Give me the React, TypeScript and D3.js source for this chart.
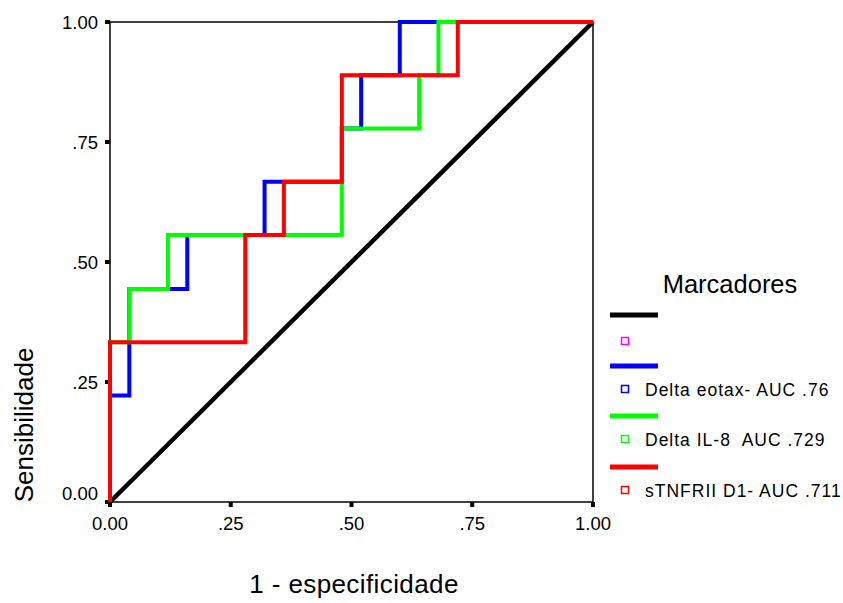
import React from "react";
import * as d3 from "d3";

// ROC step points (1 - especificidade, sensibilidade)
const eotaxFpr = [0, 0, 0.04, 0.16, 0.32, 0.48, 0.52, 0.6, 1];
const eotaxTpr = [0, 0.222, 0.444, 0.556, 0.667, 0.778, 0.889, 1, 1];
const il8Fpr = [0, 0, 0.04, 0.12, 0.48, 0.64, 0.68, 1];
const il8Tpr = [0, 0.333, 0.444, 0.556, 0.778, 0.889, 1, 1];
const tnfFpr = [0, 0, 0.28, 0.36, 0.48, 0.72, 1];
const tnfTpr = [0, 0.333, 0.556, 0.667, 0.889, 1, 1];
const refFpr = [0, 1];
const refTpr = [0, 1];

const ticks = [0, 0.25, 0.5, 0.75, 1];
const tickLabels = ["0.00", ".25", ".50", ".75", "1.00"];

const seriesNames = ["Delta eotax- AUC .76", "Delta IL-8  AUC .729", "sTNFRII D1- AUC .711"];
const seriesColors = ["#0000ff", "#00ff00", "#ff0000"];

const FONT = "'Liberation Sans', Arial, sans-serif";

export default function App() {
  const x = d3.scaleLinear().domain([0, 1]).range([110, 593]);
  const y = d3.scaleLinear().domain([0, 1]).range([502, 22]);

  const toPts = (xs: number[], ys: number[]) => xs.map((v, i) => [v, ys[i]] as [number, number]);
  const step = d3
    .line<[number, number]>()
    .x((d) => x(d[0]))
    .y((d) => y(d[1]))
    .curve(d3.curveStepAfter);
  const straight = d3
    .line<[number, number]>()
    .x((d) => x(d[0]))
    .y((d) => y(d[1]));

  const curves = [
    toPts(eotaxFpr, eotaxTpr),
    toPts(il8Fpr, il8Tpr),
    toPts(tnfFpr, tnfTpr),
  ];

  const lx = 610;
  const legendRows = [315, 366, 416, 467];

  return (
    <svg width={843} height={603} style={{ position: "absolute", left: 0, top: 0, background: "#fff" }}>
      <rect x={0} y={0} width={843} height={603} fill="#fff" />
      {/* frame */}
      <rect
        x={x(0)}
        y={y(1)}
        width={x(1) - x(0)}
        height={y(0) - y(1)}
        fill="none"
        stroke="#000"
        strokeWidth={1.5}
      />
      {/* ticks */}
      {ticks.map((t, i) => (
        <g key={"t" + i}>
          <rect x={x(0) - 5} y={y(t) - 2} width={5} height={4} fill="#000" />
          <rect x={x(t) - 2} y={y(0)} width={4} height={5} fill="#000" />
          <text
            x={x(0) - 12}
            y={Math.min(y(t), y(0) - 9)}
            dy="0.36em"
            textAnchor="end"
            fontFamily={FONT}
            fontSize={18.5}
          >
            {tickLabels[i]}
          </text>
          <text x={x(t)} y={y(0) + 28} textAnchor="middle" fontFamily={FONT} fontSize={18.5}>
            {tickLabels[i]}
          </text>
        </g>
      ))}
      {/* reference diagonal */}
      <path d={straight(toPts(refFpr, refTpr)) || ""} fill="none" stroke="#000" strokeWidth={4.5} />
      {curves.map((c, i) => (
        <path
          key={"c" + i}
          d={step(c) || ""}
          fill="none"
          stroke={seriesColors[i]}
          strokeWidth={4}
        />
      ))}
      {/* axis titles */}
      <text x={354} y={593} textAnchor="middle" fontFamily={FONT} fontSize={26} letterSpacing={0.4}>
        1 - especificidade
      </text>
      <text
        transform="translate(33,425) rotate(-90)"
        textAnchor="middle"
        fontFamily={FONT}
        fontSize={26}
      >
        Sensibilidade
      </text>
      {/* legend */}
      <text x={730} y={293} textAnchor="middle" fontFamily={FONT} fontSize={25.5}>
        Marcadores
      </text>
      <line x1={lx} x2={lx + 48} y1={legendRows[0]} y2={legendRows[0]} stroke="#000" strokeWidth={5} />
      <rect x={621.5} y={337.5} width={7} height={7} fill="none" stroke="#ff00ff" strokeWidth={1.5} />
      {seriesNames.map((name, i) => (
        <g key={"l" + i}>
          <line
            x1={lx}
            x2={lx + 48}
            y1={legendRows[i + 1]}
            y2={legendRows[i + 1]}
            stroke={seriesColors[i]}
            strokeWidth={5}
          />
          <rect
            x={621.5}
            y={legendRows[i + 1] + 19.5}
            width={7}
            height={7}
            fill="none"
            stroke={seriesColors[i]}
            strokeWidth={1.5}
          />
          <text
            x={645}
            y={legendRows[i + 1] + 30}
            fontFamily={FONT}
            fontSize={17.5}
            letterSpacing={1}
            style={{ whiteSpace: "pre" }}
          >
            {name}
          </text>
        </g>
      ))}
    </svg>
  );
}
